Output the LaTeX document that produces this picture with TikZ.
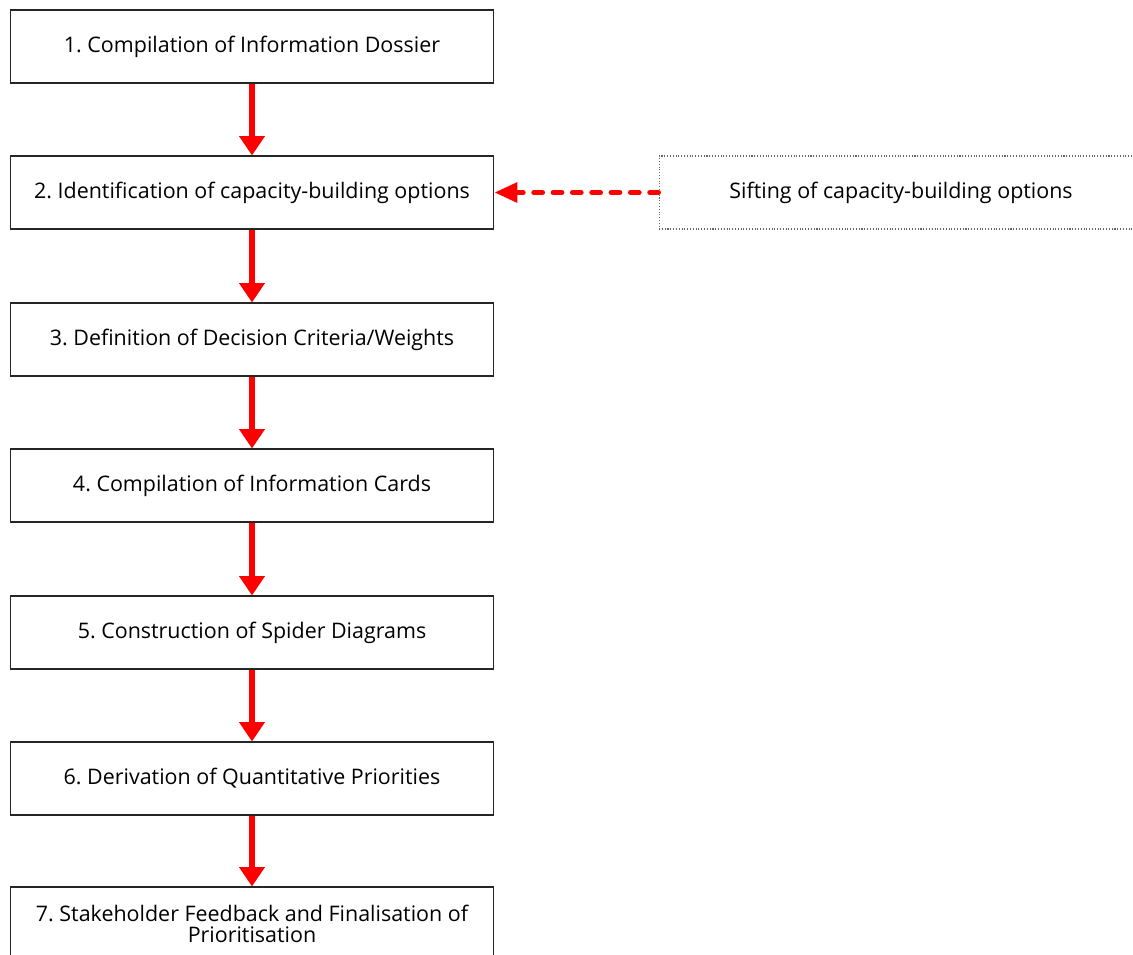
\documentclass[tikz,border=0pt]{standalone}
\usepackage{fontspec}
\setmainfont{Open Sans}
\usetikzlibrary{arrows.meta}

\begin{document}
\frenchspacing
\begin{tikzpicture}[
    x=0.02cm, y=-0.02cm,
    stage/.style={
        rectangle,
        draw=black!85,
        line width=0.6pt,
        minimum width=9.68cm,
        minimum height=1.46cm,
        align=center,
        font=\fontsize{12.2}{12}\selectfont
    },
    sifting/.style={stage, draw=black!60, densely dotted},
    flow/.style={-{Triangle[width=14pt,length=11pt]}, red, line width=3.4pt},
    feed/.style={-{Triangle[width=11pt,length=13pt]}, red, line width=2.8pt,
        dash pattern=on 5pt off 6pt, line cap=round}
]
\useasboundingbox (0,0) rectangle (1133,954);
\clip (0,0) rectangle (1133,954);

% Nodes
\node[stage] (dossier) at (252,46.5) {1. Compilation of Information Dossier};
\node[stage] (options) at (252,192.5) {2. Identification of capacity-building options};
\node[stage] (criteria) at (252,339.5) {3. Definition of Decision Criteria/Weights};
\node[stage] (cards) at (252,485.5) {4. Compilation of Information Cards};
\node[stage] (spider) at (252,632.5) {5. Construction of Spider Diagrams};
\node[stage] (priorities) at (252,778.5) {6. Derivation of Quantitative Priorities};
\node[stage] (feedback) at (252,923.5) {7. Stakeholder Feedback and Finalisation of\\Prioritisation};
\node[sifting] (sift) at (901,192.5) {Sifting of capacity-building options};

% Edges
\draw[flow] (dossier) -- (options);
\draw[flow] (options) -- (criteria);
\draw[flow] (criteria) -- (cards);
\draw[flow] (cards) -- (spider);
\draw[flow] (spider) -- (priorities);
\draw[flow] (priorities) -- (feedback);
\draw[feed] (sift) -- (options);

\end{tikzpicture}
\end{document}
